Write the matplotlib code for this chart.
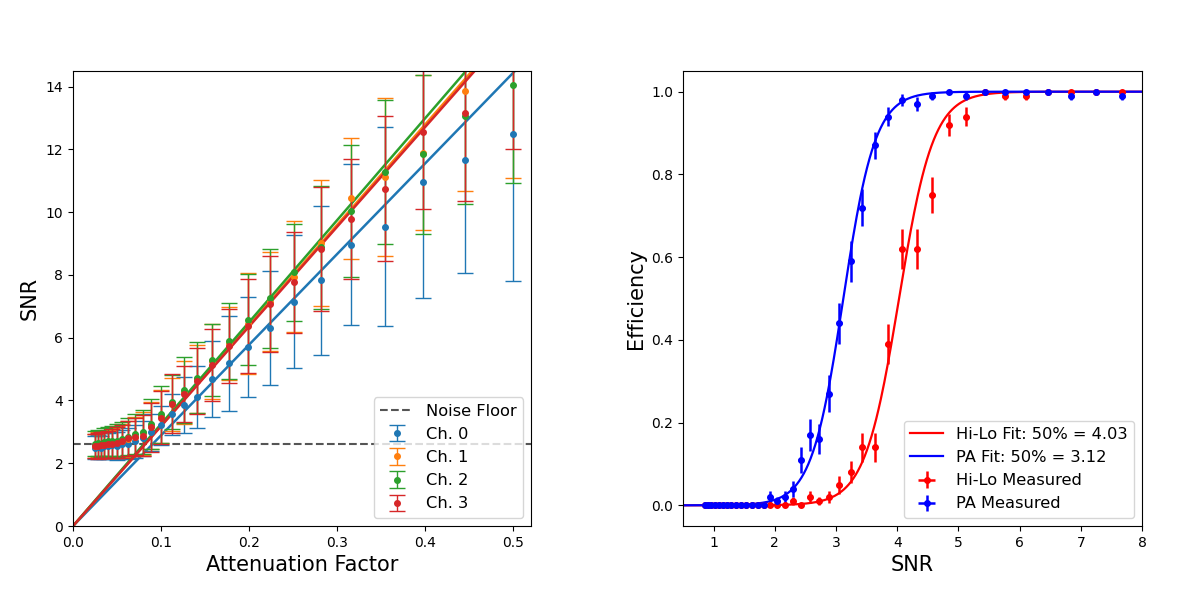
import numpy as np
import matplotlib
matplotlib.use("Agg")
import matplotlib.pyplot as plt

# ---------------- Left panel data ----------------
atten = [0.0251, 0.0281, 0.0316, 0.0354, 0.0397, 0.0446, 0.0500, 0.0561, 0.0629,
         0.0706, 0.0792, 0.0889, 0.0998, 0.1120, 0.1256, 0.1409, 0.1581, 0.1774,
         0.1991, 0.2233, 0.2506, 0.2812, 0.3155, 0.3540, 0.3972, 0.4456, 0.5000]

snr_ch0 = [2.50, 2.52, 2.50, 2.55, 2.55, 2.58, 2.55, 2.60, 2.62, 2.70, 2.80, 2.98,
           3.21, 3.56, 3.86, 4.11, 4.68, 5.18, 5.70, 6.32, 7.14, 7.83, 8.97, 9.54,
           10.96, 11.66, 12.50]
err_ch0 = [0.36, 0.38, 0.38, 0.40, 0.40, 0.42, 0.44, 0.46, 0.50, 0.52, 0.56, 0.58,
           0.62, 0.66, 0.90, 1.00, 1.22, 1.50, 1.60, 1.82, 2.12, 2.38, 2.58, 3.17,
           3.70, 3.61, 4.69]

snr_ch1 = [2.55, 2.60, 2.58, 2.62, 2.62, 2.65, 2.68, 2.72, 2.78, 2.85, 2.95, 3.20,
           3.50, 3.88, 4.26, 4.68, 5.25, 5.82, 6.45, 7.15, 7.94, 9.02, 10.45, 11.13,
           11.90, 13.85, 14.90]
err_ch1 = [0.38, 0.40, 0.40, 0.42, 0.44, 0.46, 0.50, 0.52, 0.56, 0.62, 0.68, 0.75,
           0.85, 0.85, 1.00, 1.08, 1.20, 1.17, 1.60, 1.57, 1.77, 2.00, 1.93, 2.52,
           2.47, 3.17, 3.80]

snr_ch2 = [2.62, 2.65, 2.62, 2.68, 2.70, 2.70, 2.72, 2.78, 2.85, 2.92, 3.00, 3.26,
           3.56, 3.95, 4.33, 4.73, 5.29, 5.90, 6.57, 7.26, 8.08, 8.89, 10.03, 11.29,
           11.84, 13.06, 14.05]
err_ch2 = [0.40, 0.42, 0.42, 0.44, 0.46, 0.48, 0.52, 0.55, 0.58, 0.64, 0.70, 0.80,
           0.90, 0.85, 1.06, 1.12, 1.15, 1.20, 1.45, 1.58, 1.56, 1.96, 2.10, 2.30,
           2.52, 2.80, 3.12]

snr_ch3 = [2.55, 2.55, 2.58, 2.58, 2.60, 2.62, 2.66, 2.70, 2.80, 2.85, 2.88, 3.15,
           3.45, 3.90, 4.20, 4.62, 5.13, 5.74, 6.37, 7.08, 7.76, 8.83, 9.79, 10.75,
           12.57, 13.15, 15.00]
err_ch3 = [0.38, 0.40, 0.40, 0.42, 0.44, 0.46, 0.48, 0.52, 0.56, 0.60, 0.66, 0.78,
           0.85, 0.95, 0.90, 1.05, 1.14, 1.17, 1.50, 1.54, 1.61, 1.97, 1.92, 2.30,
           2.47, 2.79, 3.00]

fit_slopes = [28.9, 32.0, 32.5, 31.8]
noise_floor = 2.6
channel_labels = ["Ch. 0", "Ch. 1", "Ch. 2", "Ch. 3"]
channel_colors = ["#1f77b4", "#ff7f0e", "#2ca02c", "#d62728"]

# ---------------- Right panel data ----------------
snr_bins = [0.860, 0.911, 0.965, 1.023, 1.083, 1.148, 1.216, 1.288, 1.364, 1.445,
            1.531, 1.621, 1.718, 1.819, 1.927, 2.042, 2.163, 2.291, 2.427, 2.571,
            2.723, 2.885, 3.056, 3.237, 3.429, 3.632, 3.848, 4.076, 4.317, 4.573,
            4.845, 5.132, 5.436, 5.758, 6.100, 6.461, 6.844, 7.250, 7.680]

eff_hilo = [0, 0, 0, 0, 0, 0, 0, 0, 0, 0, 0, 0, 0, 0,
            0.00, 0.00, 0.00, 0.01, 0.00, 0.02, 0.01, 0.02, 0.05, 0.08, 0.14,
            0.14, 0.39, 0.62, 0.62, 0.75, 0.92, 0.94, 1.00, 0.99, 0.99, 1.00,
            1.00, 1.00, 1.00]
eff_pa = [0, 0, 0, 0, 0, 0, 0, 0, 0, 0, 0, 0, 0, 0,
          0.02, 0.01, 0.02, 0.04, 0.11, 0.17, 0.16, 0.27, 0.44, 0.59, 0.72,
          0.87, 0.94, 0.98, 0.97, 0.99, 1.00, 0.99, 1.00, 1.00, 1.00, 1.00,
          0.99, 1.00, 0.99]

n_events = 100
snr_xerr = 0.04
hilo_mid, hilo_width = 4.03, 0.28
pa_mid, pa_width = 3.12, 0.26

# ---------------- Figure ----------------
fig = plt.figure(figsize=(12, 5.91), dpi=100)
ax1 = fig.add_axes([73/1200, 1-526/591, 458/1200, 455/591])
ax2 = fig.add_axes([683/1200, 1-526/591, 459/1200, 455/591])

ax1.axhline(noise_floor, color="#555555", ls="--", lw=1.5, label="Noise Floor")
xfit = np.linspace(0, 0.6, 200)
series = [(snr_ch0, err_ch0), (snr_ch1, err_ch1), (snr_ch2, err_ch2), (snr_ch3, err_ch3)]
for (vals, errs), lab, col, slope in zip(series, channel_labels, channel_colors, fit_slopes):
    ax1.errorbar(atten, vals, yerr=errs, fmt="o", ms=4, color=col, lw=1,
                 capsize=6, label=lab)
    ax1.plot(xfit, slope * xfit, color=col, lw=1.8)
ax1.set_xlim(0, 0.52)
ax1.set_ylim(0, 14.5)
ax1.set_xticks([0.0, 0.1, 0.2, 0.3, 0.4, 0.5])
ax1.set_yticks([0, 2, 4, 6, 8, 10, 12, 14])
ax1.set_xlabel("Attenuation Factor", fontsize=15)
ax1.set_ylabel("SNR", fontsize=15)
ax1.tick_params(labelsize=10)
ax1.legend(loc="lower right", fontsize=11.7)

# Right panel
xs = np.linspace(0.5, 8, 400)
ax2.plot(xs, 1 / (1 + np.exp(-(xs - hilo_mid) / hilo_width)), color="red", lw=1.6,
         label=f"Hi-Lo Fit: 50% = {hilo_mid:.2f}")
ax2.plot(xs, 1 / (1 + np.exp(-(xs - pa_mid) / pa_width)), color="blue", lw=1.6,
         label=f"PA Fit: 50% = {pa_mid:.2f}")
eh = np.array(eff_hilo)
ep = np.array(eff_pa)
ax2.errorbar(snr_bins, eff_hilo, yerr=np.sqrt(eh * (1 - eh) / n_events), xerr=snr_xerr,
             fmt="o", ms=4, color="red", elinewidth=1.8, label="Hi-Lo Measured")
ax2.errorbar(snr_bins, eff_pa, yerr=np.sqrt(ep * (1 - ep) / n_events), xerr=snr_xerr,
             fmt="o", ms=4, color="blue", elinewidth=1.8, label="PA Measured")
ax2.set_xlim(0.5, 8)
ax2.set_ylim(-0.05, 1.05)
ax2.set_xticks([1, 2, 3, 4, 5, 6, 7, 8])
ax2.set_yticks([0.0, 0.2, 0.4, 0.6, 0.8, 1.0])
ax2.set_xlabel("SNR", fontsize=15)
ax2.set_ylabel("Efficiency", fontsize=15)
ax2.tick_params(labelsize=10)
ax2.legend(loc="lower right", fontsize=11.7)

fig.savefig("out.png", dpi=100)
